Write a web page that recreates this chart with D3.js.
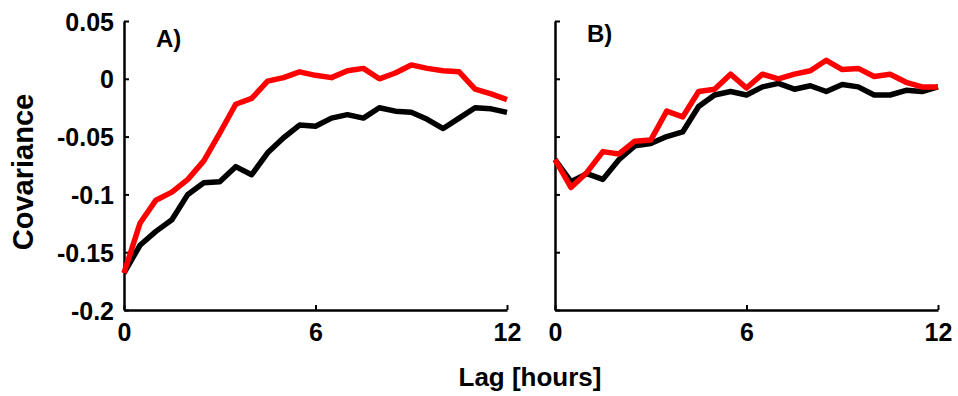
<!DOCTYPE html>
<html>
<head>
<meta charset="utf-8">
<script src="https://cdn.jsdelivr.net/npm/d3@7"></script>
<style>
  body { margin: 0; background: #fff; }
  svg text { font-family: "Liberation Sans", Arial, sans-serif; font-weight: bold; }
</style>
</head>
<body>
<svg id="chart" width="958" height="396"></svg>
<script>
// lag in hours, half-hour steps
const lags = [0, 0.5, 1, 1.5, 2, 2.5, 3, 3.5, 4, 4.5, 5, 5.5, 6, 6.5, 7, 7.5, 8, 8.5, 9, 9.5, 10, 10.5, 11, 11.5, 12];

// panel A
const blackA = [-0.168, -0.144, -0.132, -0.122, -0.100, -0.090, -0.089, -0.076, -0.083, -0.064, -0.051, -0.040, -0.041,
                -0.034, -0.031, -0.034, -0.025, -0.028, -0.029, -0.035, -0.043, -0.034, -0.025, -0.026, -0.029];
const redA   = [-0.168, -0.125, -0.105, -0.098, -0.087, -0.071, -0.047, -0.022, -0.017, -0.002, 0.001, 0.006, 0.003,
                0.001, 0.007, 0.009, 0.000, 0.005, 0.012, 0.009, 0.007, 0.006, -0.009, -0.013, -0.018];

// panel B
const blackB = [-0.070, -0.089, -0.082, -0.087, -0.070, -0.058, -0.056, -0.050, -0.046, -0.024, -0.014, -0.011, -0.014,
                -0.007, -0.004, -0.009, -0.006, -0.011, -0.005, -0.007, -0.014, -0.014, -0.010, -0.011, -0.007];
const redB   = [-0.070, -0.094, -0.081, -0.063, -0.065, -0.054, -0.053, -0.028, -0.033, -0.011, -0.009, 0.004, -0.008,
                0.004, 0.000, 0.004, 0.007, 0.016, 0.008, 0.009, 0.002, 0.004, -0.003, -0.007, -0.007];

const xTicks = [0, 6, 12];
const yTicks = [0.05, 0, -0.05, -0.1, -0.15, -0.2];
const yTickLabels = ["0.05", "0", "-0.05", "-0.1", "-0.15", "-0.2"];
const panelNames = ["A)", "B)"];

const svg = d3.select("#chart");
const top_ = 21, bottom = 310, panelW = 383;
const lefts = [124, 555];

const y = d3.scaleLinear().domain([-0.2, 0.05]).range([bottom, top_]);

const panels = [
  { left: lefts[0], black: blackA, red: redA, name: panelNames[0], labels: true },
  { left: lefts[1], black: blackB, red: redB, name: panelNames[1], labels: false }
];

panels.forEach(p => {
  const x = d3.scaleLinear().domain([0, 12]).range([p.left, p.left + panelW]);
  const g = svg.append("g");

  const yAxis = d3.axisLeft(y).tickValues(yTicks).tickSizeInner(-5).tickSizeOuter(0).tickPadding(10)
    .tickFormat(p.labels ? ((d, i) => yTickLabels[i]) : () => "");
  const ya = g.append("g").attr("transform", `translate(${p.left},0)`).call(yAxis);

  const xAxis = d3.axisBottom(x).tickValues(xTicks).tickSizeInner(-5).tickSizeOuter(0).tickPadding(13)
    .tickFormat(d3.format("d"));
  const xa = g.append("g").attr("transform", `translate(0,${bottom})`).call(xAxis);

  [ya, xa].forEach(a => {
    a.select(".domain").attr("stroke", "#000").attr("stroke-width", 2.5);
    a.selectAll(".tick line").attr("stroke", "#000").attr("stroke-width", 2);
    a.selectAll(".tick text").attr("fill", "#000").style("font-size", "25px");
  });
  ya.selectAll(".tick text").attr("dy", "0.36em");

  const line = d3.line().x((d, i) => x(lags[i])).y(d => y(d));

  g.append("path").datum(p.black).attr("d", line)
    .attr("fill", "none").attr("stroke", "#000").attr("stroke-width", 5.5).attr("stroke-linejoin", "round");
  g.append("path").datum(p.red).attr("d", line)
    .attr("fill", "none").attr("stroke", "#ff0000").attr("stroke-width", 5.5).attr("stroke-linejoin", "round");

  g.append("text").attr("x", x(1)).attr("y", p.labels ? 47 : 42)
    .style("font-size", "24px").text(p.name);
});

svg.append("text").attr("x", 530).attr("y", 386).attr("text-anchor", "middle")
  .style("font-size", "26px").text("Lag [hours]");

svg.append("text").attr("transform", "translate(33,172) rotate(-90)").attr("text-anchor", "middle")
  .style("font-size", "29px").text("Covariance");
</script>
</body>
</html>
